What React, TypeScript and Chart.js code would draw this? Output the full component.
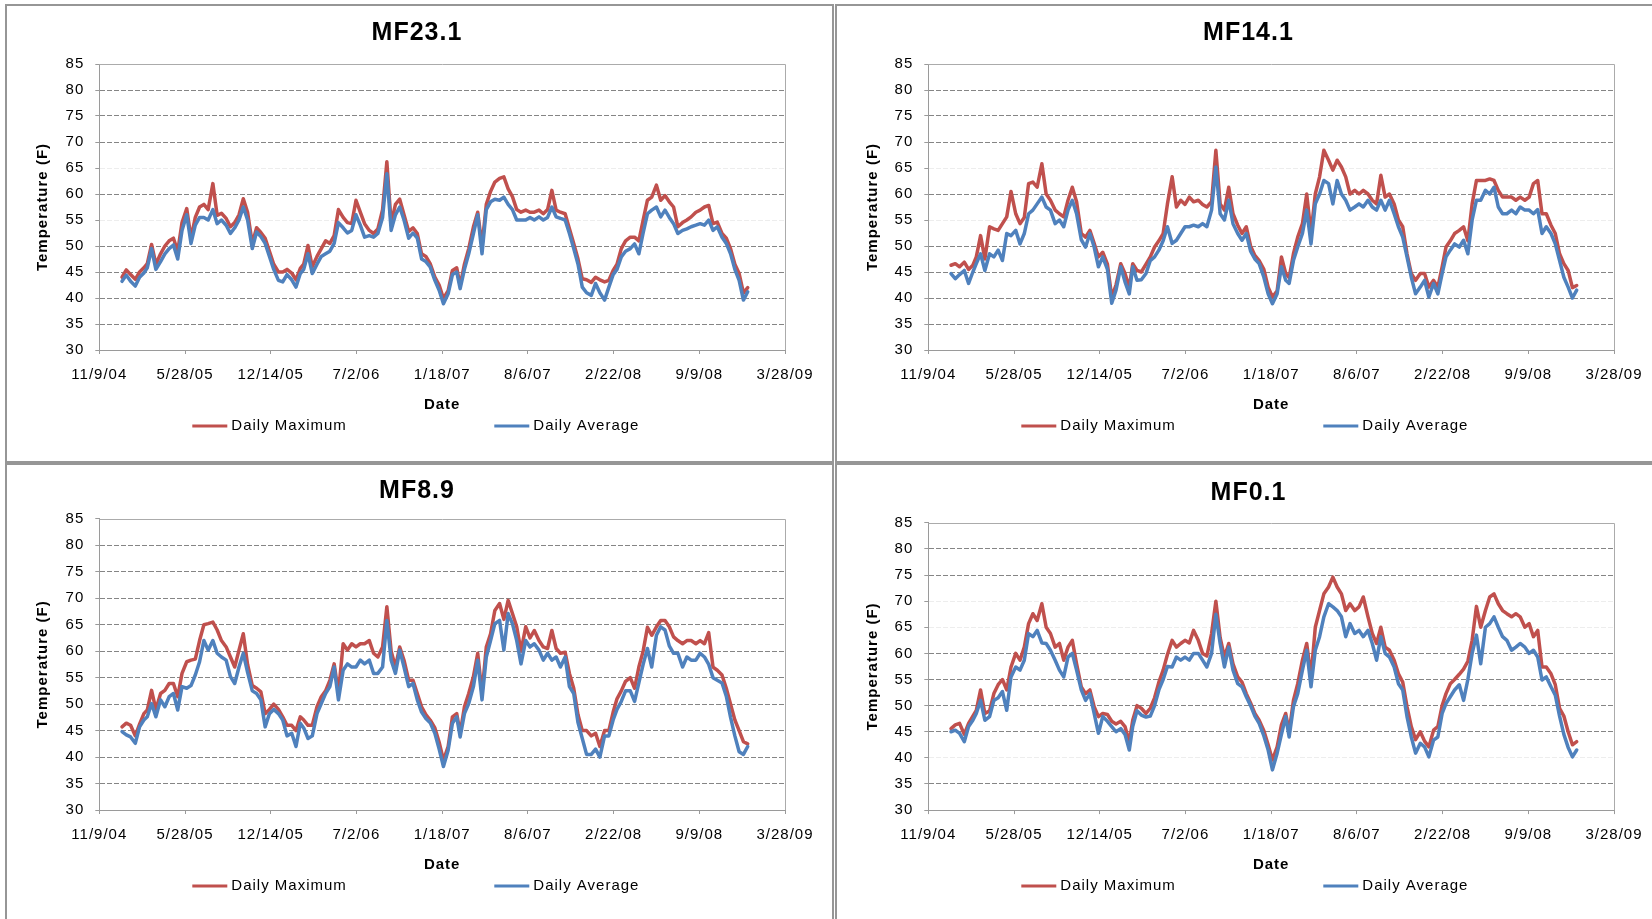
import React, { useEffect, useRef } from 'react';
import { Chart, registerables } from 'chart.js';

Chart.register(...registerables);

// ---------- data ----------
const dates = [
  '2005-01-01','2005-01-11','2005-01-21','2005-02-01','2005-02-11','2005-02-21','2005-03-01','2005-03-11','2005-03-21','2005-04-01','2005-04-11','2005-04-21',
  '2005-05-01','2005-05-11','2005-05-21','2005-06-01','2005-06-11','2005-06-21','2005-07-01','2005-07-11','2005-07-21','2005-08-01','2005-08-11','2005-08-21',
  '2005-09-01','2005-09-11','2005-09-21','2005-10-01','2005-10-11','2005-10-21','2005-11-01','2005-11-11','2005-11-21','2005-12-01','2005-12-11','2005-12-21',
  '2006-01-01','2006-01-11','2006-01-21','2006-02-01','2006-02-11','2006-02-21','2006-03-01','2006-03-11','2006-03-21','2006-04-01','2006-04-11','2006-04-21',
  '2006-05-01','2006-05-11','2006-05-21','2006-06-01','2006-06-11','2006-06-21','2006-07-01','2006-07-11','2006-07-21','2006-08-01','2006-08-11','2006-08-21',
  '2006-09-01','2006-09-11','2006-09-21','2006-10-01','2006-10-11','2006-10-21','2006-11-01','2006-11-11','2006-11-21','2006-12-01','2006-12-11','2006-12-21',
  '2007-01-01','2007-01-11','2007-01-21','2007-02-01','2007-02-11','2007-02-21','2007-03-01','2007-03-11','2007-03-21','2007-04-01','2007-04-11','2007-04-21',
  '2007-05-01','2007-05-11','2007-05-21','2007-06-01','2007-06-11','2007-06-21','2007-07-01','2007-07-11','2007-07-21','2007-08-01','2007-08-11','2007-08-21',
  '2007-09-01','2007-09-11','2007-09-21','2007-10-01','2007-10-11','2007-10-21','2007-11-01','2007-11-11','2007-11-21','2007-12-01','2007-12-11','2007-12-21',
  '2008-01-01','2008-01-11','2008-01-21','2008-02-01','2008-02-11','2008-02-21','2008-03-01','2008-03-11','2008-03-21','2008-04-01','2008-04-11','2008-04-21',
  '2008-05-01','2008-05-11','2008-05-21','2008-06-01','2008-06-11','2008-06-21','2008-07-01','2008-07-11','2008-07-21','2008-08-01','2008-08-11','2008-08-21',
  '2008-09-01','2008-09-11','2008-09-21','2008-10-01','2008-10-11','2008-10-21','2008-11-01','2008-11-11','2008-11-21','2008-12-01','2008-12-11','2008-12-21',
  '2008-12-31',
];

const xTickDates = ['2004-11-09','2005-05-28','2005-12-14','2006-07-02','2007-01-18','2007-08-06','2008-02-22','2008-09-09','2009-03-28'];
const xTickLabels = ['11/9/04','5/28/05','12/14/05','7/2/06','1/18/07','8/6/07','2/22/08','9/9/08','3/28/09'];
const yMin = 30;
const yMax = 85;
const yStep = 5;
const seriesLabels = ['Daily Maximum', 'Daily Average'];
const panelTitles = ['MF23.1', 'MF14.1', 'MF8.9', 'MF0.1'];
const xAxisTitle = 'Date';
const yAxisTitle = 'Temperature (F)';

const mf231Max = [
  44.0,45.4,44.5,43.6,45.0,45.8,46.6,50.3,46.5,48.5,50.0,51.0,51.5,49.0,54.5,57.2,51.5,55.5,57.5,58.0,57.0,62.0,55.9,56.3,55.3,53.7,54.5,56.0,59.1,56.5,50.5,53.5,52.6,51.5,49.0,46.5,
  45.0,45.0,45.5,44.8,43.5,45.7,46.5,50.1,46.0,48.0,49.5,51.0,50.5,52.0,57.0,55.5,54.5,54.3,58.8,56.5,54.3,53.0,52.4,53.3,57.0,66.2,54.3,58.0,59.0,56.0,52.8,53.5,52.4,48.5,48.0,46.6,
  44.0,42.5,39.9,41.4,45.3,45.8,42.4,46.5,49.5,53.7,56.5,50.0,58.0,60.5,62.3,63.0,63.3,61.0,59.5,57.0,56.5,56.9,56.5,56.5,56.9,56.2,57.0,60.7,56.9,56.5,56.2,53.3,50.5,47.5,43.7,43.5,
  43.0,44.0,43.5,43.1,43.4,45.3,46.5,49.5,51.0,51.7,51.7,51.0,55.0,58.8,59.4,61.7,58.8,59.7,58.5,57.5,53.7,54.5,55.0,55.6,56.5,56.9,57.5,57.8,54.3,54.6,52.4,51.5,49.5,46.5,44.7,41.0,42.0,
];
const mf231Avg = [
  43.2,44.4,43.2,42.3,44.0,44.8,45.8,49.5,45.5,47.0,48.5,49.5,50.2,47.5,53.0,56.0,50.5,54.0,55.5,55.5,55.0,57.0,54.3,55.0,54.0,52.4,53.5,55.0,57.5,55.0,49.5,52.7,51.8,50.5,48.0,45.5,
  43.4,43.1,44.5,43.5,42.1,44.7,45.5,48.5,44.7,46.5,48.0,48.5,49.0,50.5,54.5,53.5,52.5,53.0,56.0,54.0,51.7,52.0,51.7,52.4,55.5,63.9,53.0,56.0,57.5,55.0,51.5,52.5,51.5,47.5,47.0,46.0,
  43.4,41.5,38.9,40.8,44.5,45.0,41.8,45.5,48.5,52.4,56.0,48.5,57.0,58.5,59.0,58.8,59.4,58.0,57.0,55.0,55.0,55.0,55.5,55.0,55.6,55.0,55.5,57.5,55.6,55.3,55.0,52.4,49.5,46.5,42.1,41.0,
  40.5,42.8,41.0,39.6,42.1,44.5,45.5,47.9,49.0,49.5,50.4,48.5,52.5,56.2,56.9,57.5,55.6,56.9,55.5,54.3,52.4,53.0,53.3,53.7,54.0,54.3,54.0,55.0,53.0,53.7,51.7,50.5,48.5,45.5,43.4,39.6,41.2,
];

const mf141Max = [
  46.3,46.6,46.0,46.9,45.5,46.3,47.9,52.0,47.5,53.7,53.3,53.0,54.3,55.6,60.5,56.2,54.3,55.5,62.0,62.3,61.3,65.8,60.0,58.8,56.9,56.2,55.6,58.8,61.3,58.5,52.4,51.7,53.0,50.5,47.9,48.8,
  46.5,40.2,42.5,46.6,44.7,42.0,46.6,45.3,45.0,46.5,47.9,49.8,51.0,52.4,58.1,63.3,57.5,58.8,58.0,59.4,58.5,58.8,58.0,57.5,58.5,68.4,58.1,56.9,61.3,56.2,54.0,52.4,53.7,50.0,48.2,47.2,
  45.5,42.1,40.2,41.4,47.9,44.7,43.9,48.5,51.7,54.3,60.0,52.4,60.0,63.3,68.4,66.5,64.6,66.5,65.2,63.3,60.0,60.7,60.0,60.7,60.0,58.8,58.1,63.6,59.4,60.0,58.1,55.0,53.7,48.5,44.7,43.4,
  44.7,44.7,42.1,43.4,42.1,46.0,49.8,51.0,52.4,53.0,53.7,51.0,58.1,62.6,62.6,62.6,62.9,62.6,60.7,59.4,59.4,59.4,58.8,59.4,58.8,59.4,62.0,62.6,56.2,56.2,54.0,52.4,48.5,46.6,45.3,42.0,42.4,
];
const mf141Avg = [
  44.7,43.7,44.5,45.3,42.8,45.0,46.6,48.5,45.3,48.5,47.9,49.2,47.2,52.4,52.0,53.0,50.4,52.4,56.2,56.9,58.1,59.4,57.5,56.9,54.3,55.0,53.7,56.9,58.8,56.2,51.2,49.8,52.4,49.8,46.0,47.9,
  45.5,39.0,41.5,46.0,43.1,40.8,46.0,43.4,43.5,44.7,47.2,47.9,49.2,51.0,53.7,50.5,51.1,52.4,53.7,53.7,54.0,53.7,54.3,53.7,56.9,65.2,56.2,55.0,58.8,54.3,52.4,51.1,52.4,49.0,47.5,46.6,
  44.0,40.8,38.9,40.8,46.0,43.4,42.8,47.2,49.8,52.4,56.9,50.4,58.1,60.0,62.6,62.0,58.1,62.6,60.0,58.8,56.9,57.5,58.1,57.5,58.8,57.5,56.9,58.8,56.9,58.8,56.2,53.7,51.7,47.9,44.0,40.8,
  42.1,43.4,40.2,42.8,40.8,44.7,47.9,49.2,50.4,49.8,51.1,48.5,55.0,58.8,58.8,60.7,60.0,61.3,57.5,56.2,56.2,56.9,56.2,57.5,56.9,56.9,56.2,57.0,52.4,53.7,52.4,50.4,47.2,44.0,42.1,40.0,41.5,
];

const mf89Max = [
  45.7,46.4,46.0,44.0,46.2,48.2,48.9,52.6,49.0,52.0,52.6,53.9,53.9,51.4,55.8,58.0,58.3,58.5,62.0,65.0,65.2,65.5,64.0,62.0,60.8,58.9,57.0,60.2,63.3,57.5,53.5,53.0,52.3,48.2,49.0,50.0,
  49.0,47.6,46.0,46.0,45.0,47.6,47.0,46.0,46.0,49.5,51.4,52.5,54.5,57.6,52.0,61.4,60.2,61.4,60.8,61.4,61.4,62.0,59.6,58.9,60.8,68.4,60.0,57.0,60.8,58.3,54.5,54.5,52.0,49.5,48.0,47.0,
  45.5,42.8,39.4,42.0,47.6,48.2,44.5,49.5,52.0,55.2,59.6,52.0,60.8,63.3,67.7,69.0,66.0,69.6,67.1,64.6,60.0,64.6,62.5,63.9,62.0,60.8,60.5,63.9,60.5,59.6,59.8,55.8,53.0,48.0,45.0,45.0,
  44.0,44.5,42.0,45.0,45.0,48.5,51.0,52.5,54.3,55.0,53.0,57.0,60.0,64.5,63.0,64.6,65.8,65.8,64.6,62.7,62.0,61.4,62.0,62.0,61.4,62.0,61.4,63.5,57.0,56.4,55.5,53.0,50.0,47.0,45.0,42.9,42.5,
];
const mf89Avg = [
  44.8,44.2,43.8,42.6,45.7,47.0,47.6,50.1,47.6,50.8,49.5,51.4,52.0,48.9,53.3,53.0,53.5,55.5,58.0,62.0,60.2,62.0,59.6,58.9,58.3,55.2,53.9,57.0,59.6,56.0,52.5,52.0,50.8,45.7,48.2,49.0,
  48.2,47.0,44.0,44.5,42.0,46.4,45.5,43.5,44.0,48.2,50.1,52.0,53.3,57.0,50.8,56.4,57.6,57.0,57.0,58.3,57.6,58.3,55.8,55.8,57.0,65.8,58.3,55.8,60.2,57.0,53.3,53.9,50.8,48.5,47.3,46.5,
  44.5,41.5,38.2,41.3,46.4,47.6,43.8,48.2,50.1,53.3,58.3,50.8,58.9,62.0,65.2,65.8,60.2,67.1,65.2,62.0,57.6,62.0,60.8,61.4,60.2,58.3,59.6,58.3,58.9,57.0,58.9,53.3,52.0,46.5,43.5,40.5,
  40.5,41.5,40.0,44.0,44.0,47.0,49.0,50.5,52.5,52.5,50.5,54.0,57.5,60.5,57.0,63.0,64.6,64.0,61.0,59.6,59.6,57.0,58.9,58.3,58.3,59.6,58.9,57.5,55.0,54.5,54.0,51.5,47.5,44.0,41.0,40.5,42.0,
];

const mf01Max = [
  45.6,46.3,46.6,44.5,46.6,48.0,49.1,53.0,48.5,49.0,52.3,54.0,55.0,53.0,57.4,60.0,58.7,61.2,65.7,67.6,66.3,69.5,65.0,63.8,61.2,61.9,58.7,61.2,62.5,58.0,53.6,52.3,53.0,49.8,47.9,48.5,
  48.3,47.0,46.5,47.0,46.0,43.0,47.2,50.0,49.5,48.5,49.5,51.5,54.5,56.8,59.8,62.5,61.2,61.9,62.5,62.0,64.4,62.5,60.0,59.5,63.8,70.0,63.0,59.3,61.9,58.0,55.5,54.5,52.3,50.5,48.5,47.2,
  45.2,42.5,39.6,42.1,46.3,48.5,45.0,51.0,54.2,58.7,61.9,55.5,65.0,68.2,71.4,72.7,74.6,72.7,71.4,68.2,69.5,68.2,68.9,70.8,67.0,63.8,61.9,65.0,61.2,60.6,58.7,56.1,54.5,49.8,46.0,43.5,
  45.0,43.2,42.1,45.3,46.0,50.0,52.3,54.2,55.0,56.0,57.0,58.5,62.5,69.0,65.0,68.2,70.8,71.4,69.5,68.2,67.6,67.0,67.6,67.0,65.0,65.7,63.2,64.4,57.4,57.4,56.1,54.0,49.5,48.0,45.0,42.5,43.1,
];
const mf01Avg = [
  45.0,45.3,44.7,43.1,46.0,47.2,48.5,51.0,47.2,47.9,51.0,51.5,52.7,49.1,55.5,57.4,56.8,58.7,63.8,63.2,64.4,62.0,61.9,60.6,58.7,56.8,55.5,59.3,60.0,56.8,53.0,51.0,52.3,48.5,44.7,47.9,
  47.0,46.0,45.0,45.6,44.5,41.5,46.0,49.0,48.2,47.8,48.0,50.0,53.0,55.0,57.5,57.4,59.3,58.7,59.3,58.7,60.0,60.0,58.7,57.4,60.0,67.5,61.9,57.4,61.2,56.8,54.2,53.6,51.7,50.0,48.0,46.6,
  44.2,41.5,37.7,40.9,44.5,47.9,44.0,49.8,52.3,56.8,60.6,53.6,60.6,63.2,67.0,69.5,68.9,68.2,67.0,63.2,65.7,63.8,64.4,63.2,64.4,61.9,58.7,63.2,60.0,59.3,57.4,54.2,53.0,47.9,44.0,40.9,
  42.8,42.1,40.2,43.4,44.0,48.5,50.4,51.7,53.0,54.0,51.0,55.0,60.0,63.5,58.0,65.0,65.7,67.0,65.0,63.2,62.5,60.6,61.2,61.9,61.2,60.0,60.6,59.3,54.9,55.5,53.6,52.0,48.0,44.5,42.0,40.2,41.5,
];

// ---------- styling / layout ----------
const RED = '#C0504D';
const BLUE = '#4F81BD';
const FONT = '"Liberation Sans", Arial, Helvetica, sans-serif';
const GRID = '#858585';
const AXIS = '#9a9a9a';
const PAD_L = 49;
const LINE_W = 3.5;

const BASE = Date.parse('2004-11-09');
const dayOf = (s: string) => Math.round((Date.parse(s) - BASE) / 86400000);

const panels = [
  { title: panelTitles[0], max: mf231Max, avg: mf231Avg, left: 0, top: 0, width: 834, height: 463,
    plot: { l: 99.3, t: 64, r: 785, b: 350 }, titleY: 32.7, yTitleX: 43, faint: [55, 65] },
  { title: panelTitles[1], max: mf141Max, avg: mf141Avg, left: 834, top: 0, width: 818, height: 463,
    plot: { l: 94.3, t: 64, r: 780, b: 350 }, titleY: 32.7, yTitleX: 38.5, faint: [55, 65] },
  { title: panelTitles[2], max: mf89Max, avg: mf89Avg, left: 0, top: 463, width: 834, height: 456,
    plot: { l: 99.3, t: 55.8, r: 785, b: 347 }, titleY: 28, yTitleX: 42.5, faint: [] as number[] },
  { title: panelTitles[3], max: mf01Max, avg: mf01Avg, left: 834, top: 463, width: 818, height: 456,
    plot: { l: 94.3, t: 59.8, r: 780, b: 347.1 }, titleY: 30, yTitleX: 38.5, faint: [40, 65, 70] },
];

const frames = [
  { left: 5, top: 4, width: 829, height: 459 },
  { left: 835, top: 4, width: 830, height: 459 },
  { left: 5, top: 463, width: 829, height: 470 },
  { left: 835, top: 463, width: 830, height: 470 },
];

const decor = {
  id: 'decor',
  beforeDraw(chart: any) {
    chart.ctx.letterSpacing = '1px';
  },
  beforeDatasetsDraw(chart: any) {
    const { ctx, chartArea: a } = chart;
    ctx.save();
    ctx.strokeStyle = '#ababab';
    ctx.lineWidth = 1;
    const t = Math.round(a.top) + 0.5;
    const r = Math.round(a.right) + 0.5;
    ctx.beginPath();
    ctx.moveTo(a.left, t);
    ctx.lineTo(r, t);
    ctx.lineTo(r, a.bottom);
    ctx.stroke();
    ctx.restore();
  },
  afterDraw(chart: any) {
    const { ctx, chartArea: a } = chart;
    const offs = [93, 395];
    const y = a.bottom + 76;
    ctx.save();
    ctx.letterSpacing = '1px';
    ctx.font = `15px ${FONT}`;
    ctx.textBaseline = 'middle';
    ctx.textAlign = 'left';
    chart.data.datasets.forEach((ds: any, i: number) => {
      const x0 = a.left + offs[i];
      ctx.strokeStyle = ds.borderColor;
      ctx.lineWidth = 3;
      ctx.beginPath();
      ctx.moveTo(x0, y);
      ctx.lineTo(x0 + 35, y);
      ctx.stroke();
      ctx.fillStyle = '#000';
      ctx.fillText(ds.label, x0 + 39, y);
    });
    ctx.restore();
  },
};

function makeConfig(p: any): any {
  const xTickDays = xTickDates.map(dayOf);
  const toPts = (arr: number[]) => dates.map((d, i) => ({ x: dayOf(d), y: arr[i] }));
  return {
    type: 'line',
    data: {
      datasets: [
        { label: seriesLabels[0], data: toPts(p.max), borderColor: RED, backgroundColor: RED, borderWidth: LINE_W, pointRadius: 0, order: 1 },
        { label: seriesLabels[1], data: toPts(p.avg), borderColor: BLUE, backgroundColor: BLUE, borderWidth: LINE_W, pointRadius: 0, order: 0 },
      ],
    },
    options: {
      responsive: false,
      maintainAspectRatio: false,
      animation: false,
      events: [],
      layout: { autoPadding: false, padding: { left: PAD_L, right: p.width - p.plot.r, top: 0, bottom: 0 } },
      elements: { line: { tension: 0, borderJoinStyle: 'round', borderCapStyle: 'round' }, point: { radius: 0 } },
      plugins: {
        legend: { display: false },
        tooltip: { enabled: false },
        title: {
          display: true, text: p.title, color: '#000',
          font: { size: 25, weight: 'bold', family: FONT },
          padding: { top: p.titleY - 15, bottom: p.plot.t - p.titleY - 15 },
        },
      },
      scales: {
        x: {
          type: 'linear', min: xTickDays[0], max: xTickDays[xTickDays.length - 1],
          afterBuildTicks: (s: any) => { s.ticks = xTickDays.map((v) => ({ value: v })); },
          afterFit: (s: any) => { s.height = p.height - p.plot.b; },
          ticks: {
            autoSkip: false, maxRotation: 0, minRotation: 0, padding: 12, color: '#000',
            font: { size: 15, family: FONT },
            callback: (v: any) => xTickLabels[xTickDays.indexOf(v)],
          },
          grid: { drawOnChartArea: false, drawTicks: true, tickLength: 4, tickColor: AXIS, color: AXIS },
          border: { display: true, color: AXIS, width: 1 },
          title: {
            display: true, text: xAxisTitle, color: '#000',
            font: { size: 15, weight: 'bold', family: FONT },
            padding: { top: 0, bottom: p.height - p.plot.b - 9 - 55 },
          },
        },
        y: {
          type: 'linear', min: yMin, max: yMax,
          afterFit: (s: any) => { s.width = p.plot.l - PAD_L; },
          ticks: { stepSize: yStep, padding: 11, color: '#000', font: { size: 15, family: FONT } },
          grid: {
            color: (c: any) => {
              const v = c.tick ? c.tick.value : null;
              if (v === yMin || v === yMax) return 'rgba(0,0,0,0)';
              if (p.faint.includes(v)) return '#ededed';
              return GRID;
            },
            tickColor: AXIS, tickLength: 4, lineWidth: 1,
          },
          border: { display: true, color: AXIS, width: 1, dash: [5, 2] },
          title: {
            display: true, text: yAxisTitle, color: '#000',
            font: { size: 15, weight: 'bold', family: FONT },
            padding: { top: p.yTitleX - PAD_L - 9, bottom: 0 },
          },
        },
      },
    },
    plugins: [decor],
  };
}

function Panel({ p }: { p: any }) {
  const ref = useRef<HTMLCanvasElement>(null);
  useEffect(() => {
    const chart = new Chart(ref.current as HTMLCanvasElement, makeConfig(p));
    return () => chart.destroy();
  }, [p]);
  return (
    <canvas
      ref={ref}
      width={p.width}
      height={p.height}
      style={{ position: 'absolute', left: p.left, top: p.top, width: p.width, height: p.height }}
    />
  );
}

export default function App() {
  return (
    <div style={{ position: 'absolute', left: 0, top: 0, width: 1652, height: 919, overflow: 'hidden', background: '#fff' }}>
      {frames.map((f, i) => (
        <div
          key={'f' + i}
          style={{
            position: 'absolute', left: f.left, top: f.top, width: f.width, height: f.height,
            boxSizing: 'border-box', border: '2px solid #969696',
          }}
        />
      ))}
      {panels.map((p, i) => (
        <Panel key={i} p={p} />
      ))}
    </div>
  );
}
